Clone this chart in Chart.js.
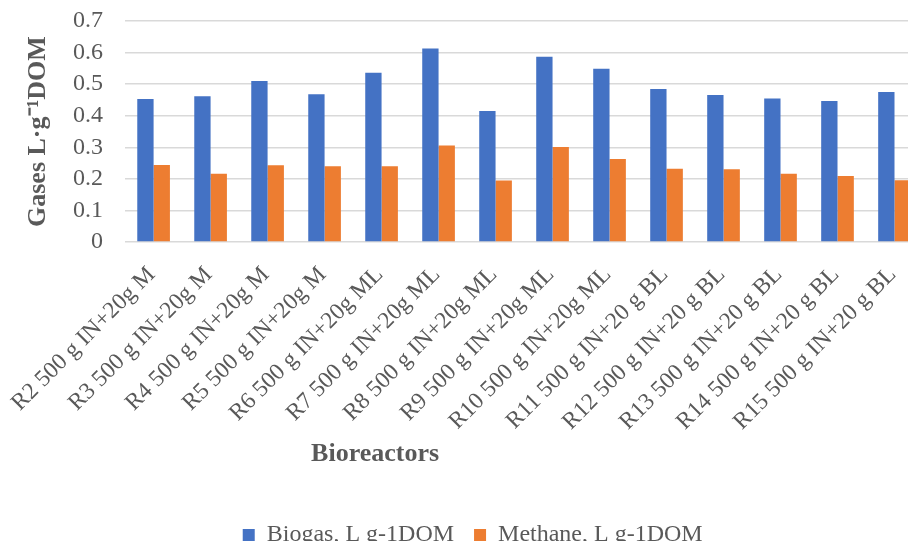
<!DOCTYPE html>
<html lang="en">
<head>
<meta charset="utf-8">
<title>Biogas and methane yield per bioreactor</title>
<script src="https://cdn.jsdelivr.net/npm/chart.js@4.4.0/dist/chart.umd.min.js"></script>
<style>
    html, body {
        margin: 0;
        padding: 0;
        background: #ffffff;
        overflow: hidden;
    }
    #wrap {
        width: 908px;
        height: 541px;
        overflow: hidden;
    }
</style>
</head>
<body>

<div id="wrap">
    <canvas id="gasChart" width="930" height="557"></canvas>
</div>

<script>
// bioreactor names, one per bar pair
var reactors = [
    'R2 500 g IN+20g M',
    'R3 500 g IN+20g M',
    'R4 500 g IN+20g M',
    'R5 500 g IN+20g M',
    'R6 500 g IN+20g ML',
    'R7 500 g IN+20g ML',
    'R8 500 g IN+20g ML',
    'R9 500 g IN+20g ML',
    'R10 500 g IN+20g ML',
    'R11 500 g IN+20 g BL',
    'R12 500 g IN+20 g BL',
    'R13 500 g IN+20 g BL',
    'R14 500 g IN+20 g BL',
    'R15 500 g IN+20 g BL'
];

// values
var biogas  = [0.453, 0.462, 0.510, 0.468, 0.536, 0.613, 0.415, 0.587, 0.549, 0.485, 0.466, 0.455, 0.447, 0.475];
var methane = [0.244, 0.216, 0.243, 0.240, 0.240, 0.306, 0.195, 0.301, 0.263, 0.232, 0.231, 0.216, 0.209, 0.196];

var yTicks = [0, 0.1, 0.2, 0.3, 0.4, 0.5, 0.6, 0.7];

var seriesNames = ['Biogas, L g-1DOM', 'Methane, L g-1DOM'];
var yTitle = 'Gases L\u00b7g\u207b\u00b9DOM';
var xTitle = 'Bioreactors';

var serif = '"Liberation Serif", "Times New Roman", serif';
var grey = '#595959';

// Excel had the axis title dragged off centre, so draw it by hand
// (the real scale title is kept but transparent so it still takes its room)
var xTitlePlugin = {
    id: 'xTitleShift',
    afterDraw: function (chart) {
        var sx = chart.scales.x;
        var ctx = chart.ctx;
        ctx.save();
        ctx.font = 'bold 26px ' + serif;
        ctx.fillStyle = grey;
        ctx.textAlign = 'center';
        ctx.textBaseline = 'middle';
        ctx.fillText(xTitle, sx.left + 250, sx.top + 212);
        ctx.restore();
    }
};

const ctx = document.getElementById('gasChart').getContext('2d');
const gasChart = new Chart(ctx, {
    type: 'bar',
    data: {
        labels: reactors,
        datasets: [{
            label: seriesNames[0],
            data: biogas,
            backgroundColor: '#4472c4',
            borderWidth: 0
        }, {
            label: seriesNames[1],
            data: methane,
            backgroundColor: '#ed7d31',
            borderWidth: 0
        }]
    },
    options: {
        responsive: false,
        animation: false,
        devicePixelRatio: 1,
        categoryPercentage: 0.573,
        barPercentage: 1.0,
        layout: {
            padding: { left: 22.4, right: 7, top: 21, bottom: 0 }
        },
        plugins: {
            tooltip: { enabled: false },
            legend: {
                position: 'bottom',
                labels: {
                    font: { family: serif, size: 24 },
                    color: grey,
                    boxWidth: 12,
                    boxHeight: 12,
                    padding: 20
                }
            }
        },
        scales: {
            x: {
                grid: { display: false },
                border: { display: false },
                // the long rotated labels may hang out to the left, like in Excel
                afterFit: function (scale) {
                    scale.paddingLeft = 0;
                    scale.paddingRight = 0;
                },
                ticks: {
                    font: { family: serif, size: 23.5 },
                    color: grey,
                    minRotation: 45,
                    maxRotation: 45,
                    autoSkip: false,
                    padding: 11,
                    labelOffset: -2
                },
                title: {
                    display: true,
                    text: xTitle,
                    color: 'rgba(0,0,0,0)',
                    font: { family: serif, size: 26, weight: 'bold' },
                    padding: { top: 4, bottom: 21 }
                }
            },
            y: {
                min: 0,
                max: 0.7,
                afterBuildTicks: function (scale) {
                    scale.ticks = yTicks.map(function (v) { return { value: v }; });
                },
                afterFit: function (scale) {
                    scale.paddingTop = 0;
                    scale.paddingBottom = 0;
                },
                grid: {
                    color: '#d9d9d9',
                    lineWidth: 1.5,
                    drawTicks: false
                },
                border: { display: false },
                ticks: {
                    font: { family: serif, size: 24 },
                    color: grey,
                    padding: 22,
                    autoSkip: false,
                    callback: function (v) { return v === 0 ? '0' : v.toFixed(1); }
                },
                title: {
                    display: true,
                    text: yTitle,
                    color: grey,
                    font: { family: serif, size: 26, weight: 'bold' },
                    padding: { top: 0, bottom: -2.5 }
                }
            }
        }
    },
    plugins: [xTitlePlugin]
});
</script>

</body>
</html>
